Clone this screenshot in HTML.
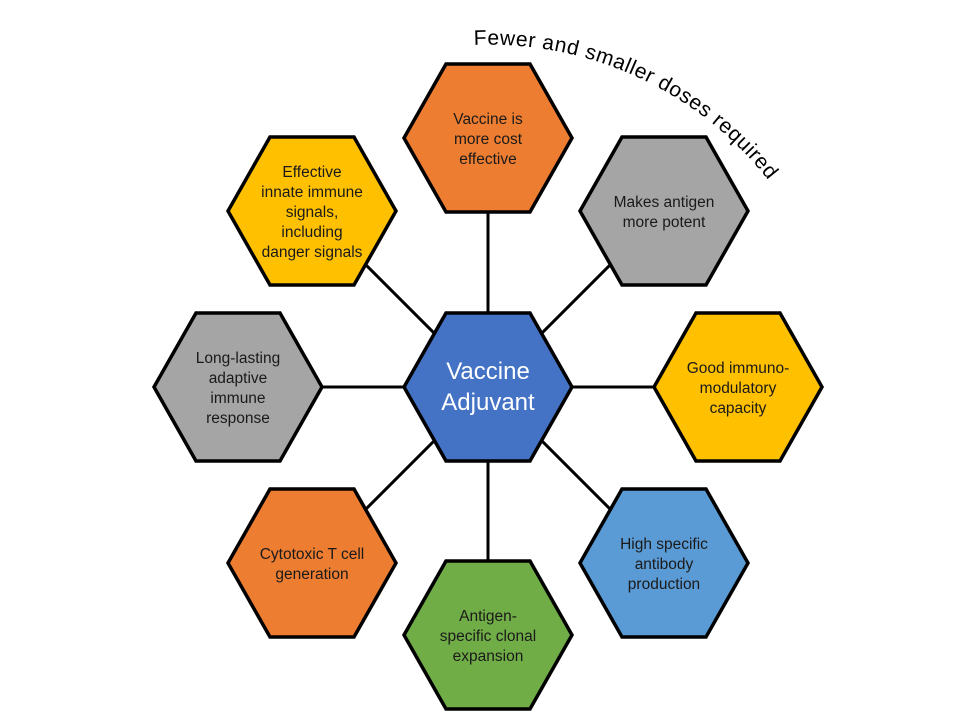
<!DOCTYPE html>
<html><head><meta charset="utf-8"><style>
html,body{margin:0;padding:0;background:#fff;}
svg{display:block;}
text{font-family:"Liberation Sans",sans-serif;}
</style></head><body>
<svg width="975" height="712" viewBox="0 0 975 712" xmlns="http://www.w3.org/2000/svg">
<defs>
<path id="arc" d="M 474 45 A 355 355 0 0 1 830 300"/>
</defs>
<g stroke="#000" stroke-width="3">
<line x1="488" y1="387" x2="488" y2="138"/>
<line x1="488" y1="387" x2="664" y2="211"/>
<line x1="488" y1="387" x2="738" y2="387"/>
<line x1="488" y1="387" x2="664" y2="563"/>
<line x1="488" y1="387" x2="488" y2="635"/>
<line x1="488" y1="387" x2="312" y2="563"/>
<line x1="488" y1="387" x2="238" y2="387"/>
<line x1="488" y1="387" x2="312" y2="211"/>
</g>
<g stroke="#000" stroke-width="3.5" stroke-linejoin="miter">
<polygon fill="#ED7D31" transform="translate(488,138)" points="-84,0 -42,-74 42,-74 84,0 42,74 -42,74"/>
<polygon fill="#A5A5A5" transform="translate(664,211)" points="-84,0 -42,-74 42,-74 84,0 42,74 -42,74"/>
<polygon fill="#FFC000" transform="translate(738,387)" points="-84,0 -42,-74 42,-74 84,0 42,74 -42,74"/>
<polygon fill="#5B9BD5" transform="translate(664,563)" points="-84,0 -42,-74 42,-74 84,0 42,74 -42,74"/>
<polygon fill="#70AD47" transform="translate(488,635)" points="-84,0 -42,-74 42,-74 84,0 42,74 -42,74"/>
<polygon fill="#ED7D31" transform="translate(312,563)" points="-84,0 -42,-74 42,-74 84,0 42,74 -42,74"/>
<polygon fill="#A5A5A5" transform="translate(238,387)" points="-84,0 -42,-74 42,-74 84,0 42,74 -42,74"/>
<polygon fill="#FFC000" transform="translate(312,211)" points="-84,0 -42,-74 42,-74 84,0 42,74 -42,74"/>
<polygon fill="#4472C4" transform="translate(488,387)" points="-84,0 -42,-74 42,-74 84,0 42,74 -42,74"/>
</g>
<g font-size="15.5" fill="#1a1a1a" text-anchor="middle">
<text x="488" y="124">Vaccine is</text>
<text x="488" y="144">more cost</text>
<text x="488" y="164">effective</text>
<text x="664" y="207">Makes antigen</text>
<text x="664" y="227">more potent</text>
<text x="738" y="373">Good immuno-</text>
<text x="738" y="393">modulatory</text>
<text x="738" y="413">capacity</text>
<text x="664" y="549">High specific</text>
<text x="664" y="569">antibody</text>
<text x="664" y="589">production</text>
<text x="488" y="621">Antigen-</text>
<text x="488" y="641">specific clonal</text>
<text x="488" y="661">expansion</text>
<text x="312" y="559">Cytotoxic T cell</text>
<text x="312" y="579">generation</text>
<text x="238" y="363">Long-lasting</text>
<text x="238" y="383">adaptive</text>
<text x="238" y="403">immune</text>
<text x="238" y="423">response</text>
<text x="312" y="177">Effective</text>
<text x="312" y="197">innate immune</text>
<text x="312" y="217">signals,</text>
<text x="312" y="237">including</text>
<text x="312" y="257">danger signals</text>
</g>
<g font-size="24" fill="#fff" text-anchor="middle">
<text x="488" y="379">Vaccine</text>
<text x="488" y="410">Adjuvant</text>
</g>
<text font-size="21" fill="#000" letter-spacing="0.6"><textPath href="#arc">Fewer and smaller doses required</textPath></text>
</svg>
</body></html>
